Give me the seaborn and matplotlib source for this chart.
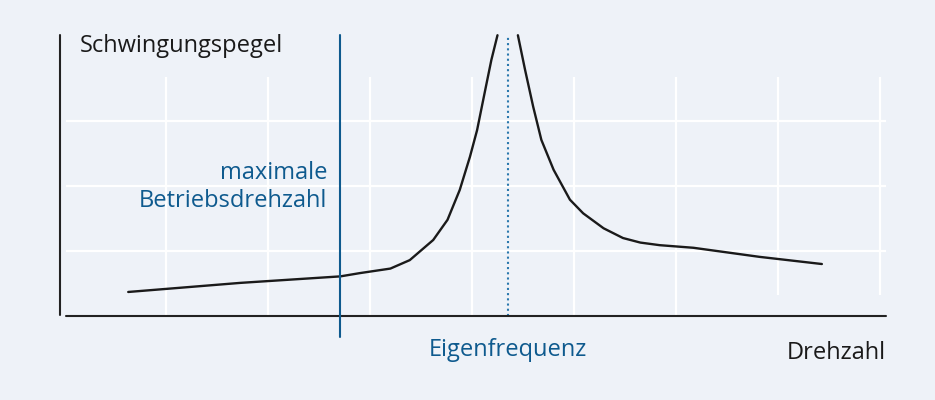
import numpy as np
import pandas as pd
import matplotlib
matplotlib.use("Agg")
from matplotlib import pyplot as plt
import seaborn as sns

# Resonanzkurve (x: Drehzahl in Rasterteilen, y: Pegel in Rasterteilen)
# linker Ast (Anstieg bis zum oberen Rand)
drehzahl_links = [0.63, 1.73, 2.71, 2.90, 3.20, 3.39, 3.62, 3.76, 3.88, 3.98, 4.05,
                  4.13, 4.19, 4.25]
pegel_links = [0.37, 0.51, 0.61, 0.66, 0.73, 0.86, 1.17, 1.48, 1.94, 2.45, 2.86,
               3.48, 3.94, 4.32]
# rechter Ast (Abfall nach der Resonanz)
drehzahl_rechts = [4.45, 4.52, 4.60, 4.68, 4.80, 4.96, 5.09, 5.29, 5.48, 5.65, 5.84,
                   6.17, 6.82, 7.43]
pegel_rechts = [4.32, 3.79, 3.22, 2.71, 2.25, 1.79, 1.58, 1.35, 1.20, 1.13, 1.09,
                1.05, 0.91, 0.80]

max_drehzahl = 2.71
eigenfrequenz = 4.35
grid_x = [1, 2, 3, 4, 5, 6, 7, 8]
grid_y = [1, 2, 3]

df = pd.DataFrame({
    "Drehzahl": drehzahl_links + drehzahl_rechts,
    "Pegel": pegel_links + pegel_rechts,
    "Ast": ["links"] * len(drehzahl_links) + ["rechts"] * len(drehzahl_rechts),
})

bg = "#eef2f8"
blue = "#0e5a8e"
sns.set_theme(style="white", rc={"axes.facecolor": bg, "figure.facecolor": bg})
plt.rcParams['font.family'] = ['Open Sans', 'DejaVu Sans']

fig = plt.figure(figsize=(9.35, 4), dpi=100)
ax = fig.add_axes([0, 0, 1, 1])
ax.set_xlim(-0.627, 8.539)
ax.set_ylim(-1.292, 4.862)
ax.axis("off")

# Raster
ax.vlines(grid_x, [0, 0, 0, 0, 0, 0, 0.32, 0.32], 3.68, color="white", lw=1.6, zorder=1)
ax.hlines(grid_y, 0.02, 8.06, color="white", lw=1.6, zorder=1)

# Achsen
ax.plot([-0.04, -0.04], [0.02, 4.32], color="#222222", lw=1.5, zorder=3)
ax.plot([0.02, 8.06], [0.0, 0.0], color="#222222", lw=1.5, zorder=3)

sns.lineplot(data=df, x="Drehzahl", y="Pegel", hue="Ast", ax=ax,
             palette=["#1a1a1a", "#1a1a1a"], lw=1.7, sort=False, legend=False,
             estimator=None, zorder=4, solid_joinstyle="round")

ax.plot([max_drehzahl, max_drehzahl], [-0.32, 4.32], color=blue, lw=1.5, zorder=5)
ax.plot([eigenfrequenz, eigenfrequenz], [0.0, 4.32], color="#2a78ad", lw=1.5,
        ls=(0, (1, 1.5)), zorder=2)

ax.text(0.157, 4.15, "Schwingungspegel", fontsize=17, color="#1a1a1a", va="center", ha="left")
ax.text(2.58, 1.98, "maximale\nBetriebsdrehzahl", fontsize=17, color=blue, va="center",
        ha="right", multialignment="right", linespacing=1.22)
ax.text(eigenfrequenz, -0.52, "Eigenfrequenz", fontsize=17, color=blue, va="center", ha="center")
ax.text(8.06, -0.57, "Drehzahl", fontsize=17, color="#1a1a1a", va="center", ha="right")

fig.savefig("out.png", dpi=100, facecolor=bg)
